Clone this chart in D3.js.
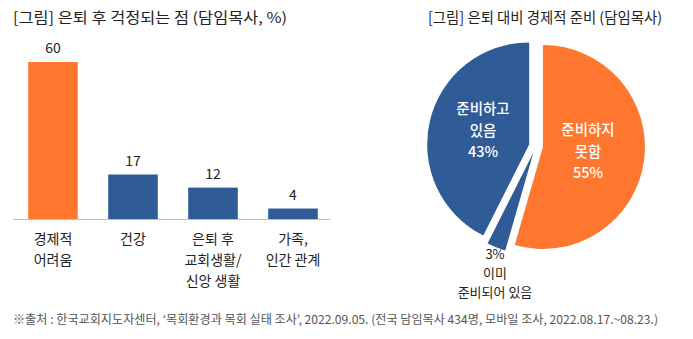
<!DOCTYPE html>
<html><head><meta charset="utf-8">
<script src="https://cdn.jsdelivr.net/npm/d3@7"></script>
<style>
html,body{margin:0;padding:0;background:#fff;}
svg{display:block;font-family:"Noto Sans CJK KR","Noto Sans",sans-serif;}
</style></head>
<body>
<svg id="c" width="693" height="339"></svg>
<script>
const barTitle = "[그림] 은퇴 후 걱정되는 점 (담임목사, %)";
const barCategories = [["경제적","어려움"],["건강"],["은퇴 후","교회생활/","신앙 생활"],["가족,","인간 관계"]];
const barValues = [60, 17, 12, 4];
const barColors = ["#FF762E", "#2F5B97", "#2F5B97", "#2F5B97"];

const pieTitle = "[그림] 은퇴 대비 경제적 준비 (담임목사)";
const pieLabels = [["준비하지","못함"],["이미","준비되어 있음"],["준비하고","있음"]];
const pieValues = [55, 3, 43];
const pieColors = ["#FF762E", "#2F5B97", "#2F5B97"];

const footnote = "※출처 : 한국교회지도자센터, ‘목회환경과 목회 실태 조사’, 2022.09.05. (전국 담임목사 434명, 모바일 조사, 2022.08.17.~08.23.)";

const svg = d3.select("#c");

// ---- Bar chart ----
svg.append("text").attr("x", 13).attr("y", 23).attr("font-size", 14.5).attr("fill", "#222")
  .attr("textLength", 274).attr("lengthAdjust", "spacingAndGlyphs").text(barTitle);

const x = d3.scaleBand().domain(d3.range(barValues.length)).range([13, 333]).paddingInner(0.38).paddingOuter(0.19);
const y = d3.scaleLinear().domain([0, 60]).range([219, 62]);

svg.append("g").selectAll("rect").data(barValues).join("rect")
  .attr("x", (d,i) => x(i)).attr("y", d => y(d))
  .attr("width", x.bandwidth()).attr("height", d => y(0) - y(d))
  .attr("fill", (d,i) => barColors[i]);

svg.append("line").attr("x1", 13).attr("x2", 330).attr("y1", 219.5).attr("y2", 219.5)
  .attr("stroke", "#bdbdbd").attr("stroke-width", 1);

svg.append("g").selectAll("text").data(barValues).join("text")
  .attr("x", (d,i) => x(i) + x.bandwidth()/2).attr("y", d => y(d) - 9)
  .attr("text-anchor", "middle").attr("font-size", 14).attr("fill", "#222").text(d => d);

const cg = svg.append("g");
barCategories.forEach((lines, i) => {
  lines.forEach((t, j) => {
    cg.append("text").attr("x", x(i) + x.bandwidth()/2).attr("y", 244 + j*21)
      .attr("text-anchor", "middle").attr("font-size", 14).attr("fill", "#222").text(t);
  });
});

// ---- Pie chart ----
svg.append("text").attr("x", 428).attr("y", 23).attr("font-size", 14.5).attr("fill", "#222")
  .attr("textLength", 234).attr("lengthAdjust", "spacingAndGlyphs").text(pieTitle);

const cx = 536, cy = 146, r = 102, explode = 7;
const pie = d3.pie().sort(null).value(d => d);
const arcs = pie(pieValues);
const arc = d3.arc().innerRadius(0).outerRadius(r);
const pg = svg.append("g").attr("transform", `translate(${cx},${cy})`);
pg.selectAll("path").data(arcs).join("path")
  .attr("d", arc)
  .attr("fill", (d,i) => pieColors[i])
  .attr("transform", d => {
    const a = (d.startAngle + d.endAngle)/2;
    return `translate(${explode*Math.sin(a)},${-explode*Math.cos(a)})`;
  });

// labels
const labelPos = [[588, 131], [495, 255], [483, 110]];
const labelColor = ["#fff", "#222", "#fff"];
arcs.forEach((d, i) => {
  const [lx, ly] = labelPos[i];
  let lines;
  if (i === 1) lines = [pieValues[i] + "%", ...pieLabels[i]];
  else lines = [...pieLabels[i], pieValues[i] + "%"];
  const lh = i === 1 ? 19 : 21.5;
  lines.forEach((t, j) => {
    svg.append("text").attr("x", lx).attr("y", ly + 4 + j*lh)
      .attr("text-anchor", "middle").attr("font-size", i === 1 ? 13 : 14.5)
      .attr("font-weight", i === 1 ? 400 : 500)
      .attr("fill", labelColor[i]).text(t);
  });
});

// ---- Footnote ----
svg.append("text").attr("x", 13).attr("y", 324).attr("font-size", 12).attr("fill", "#555")
  .attr("textLength", 645).attr("lengthAdjust", "spacingAndGlyphs").text(footnote);
</script>
</body></html>
